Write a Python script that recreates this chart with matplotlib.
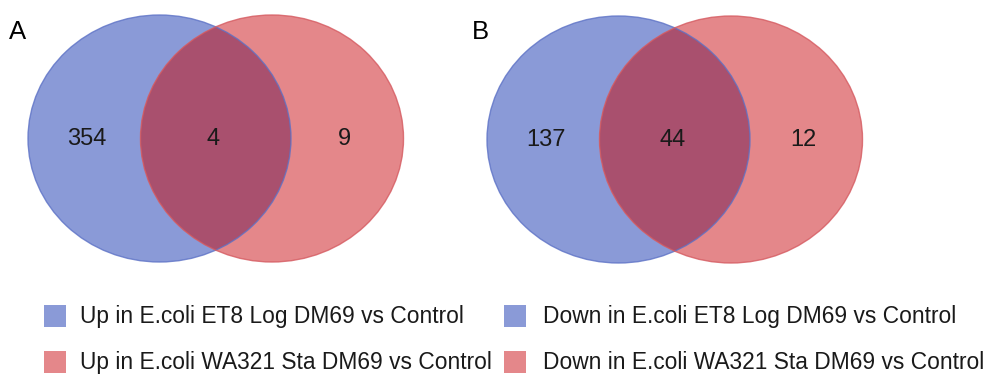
import matplotlib
matplotlib.use("Agg")
import matplotlib.pyplot as plt
from matplotlib.patches import Ellipse, Rectangle

# ---- data ----
panels = ["A", "B"]
only_first = [354, 137]
both = [4, 44]
only_second = [9, 12]
legend_first = ["Up in E.coli ET8 Log DM69 vs Control",
                "Down in E.coli ET8 Log DM69 vs Control"]
legend_second = ["Up in E.coli WA321 Sta DM69 vs Control",
                 "Down in E.coli WA321 Sta DM69 vs Control"]

# ---- style ----
BLUE = "#8a9ad7"
RED = "#e4878a"
OVER = "#a9506e"
BLUE_EDGE = "#5d72c6"
RED_EDGE = "#d55a60"
FONT = ["Liberation Sans", "DejaVu Sans"]

W, H = 987, 374
fig = plt.figure(figsize=(W / 100, H / 100), dpi=100)
ax = fig.add_axes([0, 0, 1, 1])
ax.set_xlim(0, W)
ax.set_ylim(H, 0)
ax.axis("off")

# layout (pixels)
centers = [((159.5, 138.5), (272, 138.5)), ((618.5, 139.5), (731, 139.5))]
ew, eh = 263, 247
label_pos = [(9, 39), (472, 39)]

for i in range(2):
    (c1, c2) = centers[i]
    e1 = Ellipse(c1, ew, eh, facecolor=BLUE, edgecolor="none", zorder=1)
    e2 = Ellipse(c2, ew, eh, facecolor=RED, edgecolor="none", zorder=2)
    ax.add_patch(e1)
    ax.add_patch(e2)
    ov = Ellipse(c1, ew, eh, facecolor=OVER, edgecolor="none", zorder=3)
    ax.add_patch(ov)
    clip = Ellipse(c2, ew, eh, transform=ax.transData)
    ov.set_clip_path(clip)
    ax.add_patch(Ellipse(c1, ew, eh, facecolor="none", edgecolor=BLUE_EDGE, lw=1.0, alpha=0.8, zorder=4))
    ax.add_patch(Ellipse(c2, ew, eh, facecolor="none", edgecolor=RED_EDGE, lw=1.0, alpha=0.8, zorder=4))
    y = c1[1]
    left_x = c1[0] - ew / 2
    right_x = c2[0] + ew / 2
    ov_x = ((c2[0] - ew / 2) + (c1[0] + ew / 2)) / 2 - 2.5
    ax.text((left_x + c2[0] - ew / 2) / 2 + 2.5, y, str(only_first[i]), ha="center", va="center",
            fontsize=17, family=FONT, color="#1a1a1a", zorder=5)
    ax.text(ov_x, y, str(both[i]), ha="center", va="center",
            fontsize=17, family=FONT, color="#1a1a1a", zorder=5)
    ax.text((c1[0] + ew / 2 + right_x) / 2 - 3, y, str(only_second[i]), ha="center", va="center",
            fontsize=17, family=FONT, color="#1a1a1a", zorder=5)
    ax.text(label_pos[i][0], label_pos[i][1], panels[i], ha="left", va="baseline",
            fontsize=18.5, family=FONT, color="black")

# legend
col_x = [44, 504]
text_x = [80, 543]
row_y = [316, 362]
for i in range(2):
    for j, (lab, col) in enumerate([(legend_first[i], BLUE), (legend_second[i], RED)]):
        ax.add_patch(Rectangle((col_x[i], row_y[j] - 11), 22, 22, facecolor=col, edgecolor="none"))
        ax.text(text_x[i], row_y[j] + 7, lab, ha="left", va="baseline",
                fontsize=16.4, family=FONT, color="#1a1a1a")

fig.savefig("out.png", dpi=100)
